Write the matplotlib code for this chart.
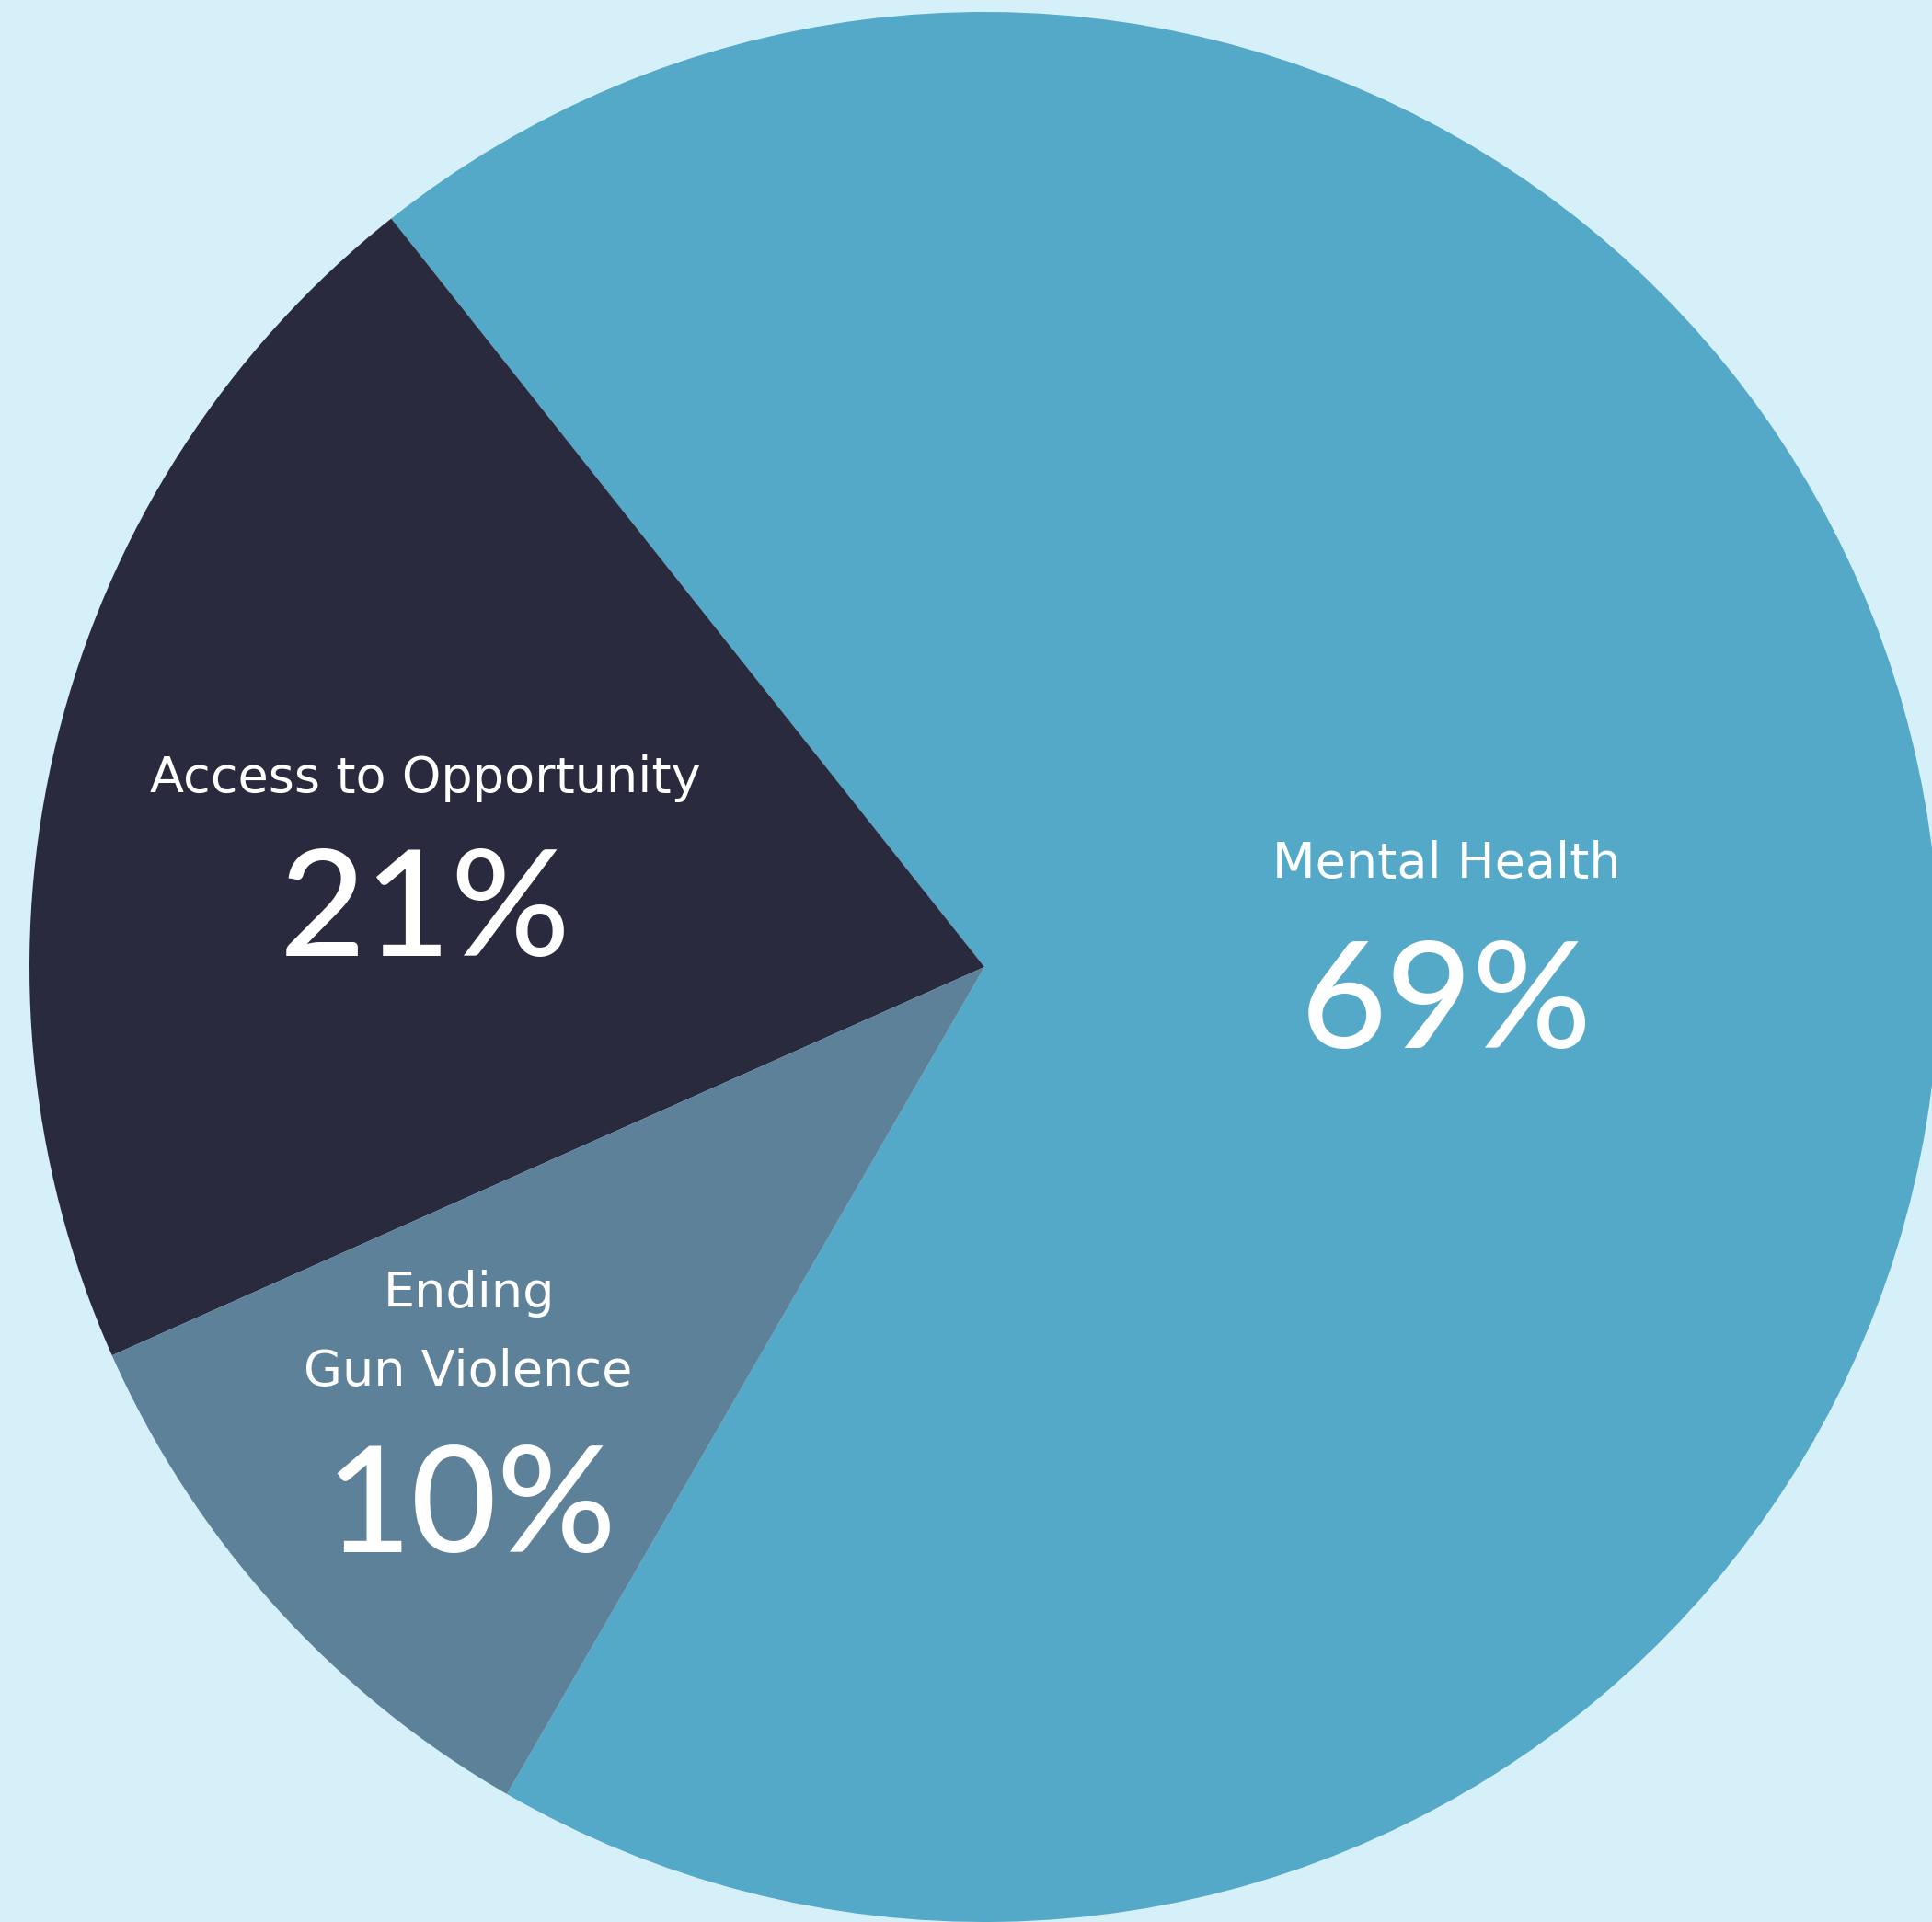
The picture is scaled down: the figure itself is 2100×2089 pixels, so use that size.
import matplotlib
matplotlib.use("Agg")
import matplotlib.pyplot as plt

categories = ["Mental Health", "Access to Opportunity", "Ending", "Gun Violence"]
values = [69, 21, 10]
pct_labels = ["69%", "21%", "10%"]
colors = ["#54A8C8", "#2A2A3E", "#5D8199"]
bg = "#D5F0F8"

W, H = 2100, 2089
fig = plt.figure(figsize=(W / 100, H / 100), dpi=100, facecolor=bg)
ax = fig.add_axes([0, 0, 1, 1])
ax.set_facecolor(bg)

cx, cy, r = 1070, H - 1051, 1038
ax.pie(values, colors=colors, startangle=240, counterclock=True,
       center=(cx, cy), radius=r, frame=True,
       wedgeprops=dict(linewidth=0))
ax.set_xlim(0, W)
ax.set_ylim(0, H)
ax.set_aspect("equal")
ax.axis("off")

# label positions (pixel coords from top)
label_pos = [(1572, 939), (462, 846), (510, 1406), (509, 1491)]
pct_pos = [(1572, 1094), (462, 994), (512, 1641)]
label_font = dict(family="DejaVu Sans", fontweight="normal", fontsize=39, color="white")
pct_font = dict(family="Lato", fontweight="medium", fontsize=116, color="white")

for cat, (x, y) in zip(categories, label_pos):
    ax.text(x, H - y, cat, ha="center", va="center", **label_font)
for p, (x, y) in zip(pct_labels, pct_pos):
    ax.text(x, H - y, p, ha="center", va="center", **pct_font)

fig.savefig("out.png", dpi=100, facecolor=bg)
